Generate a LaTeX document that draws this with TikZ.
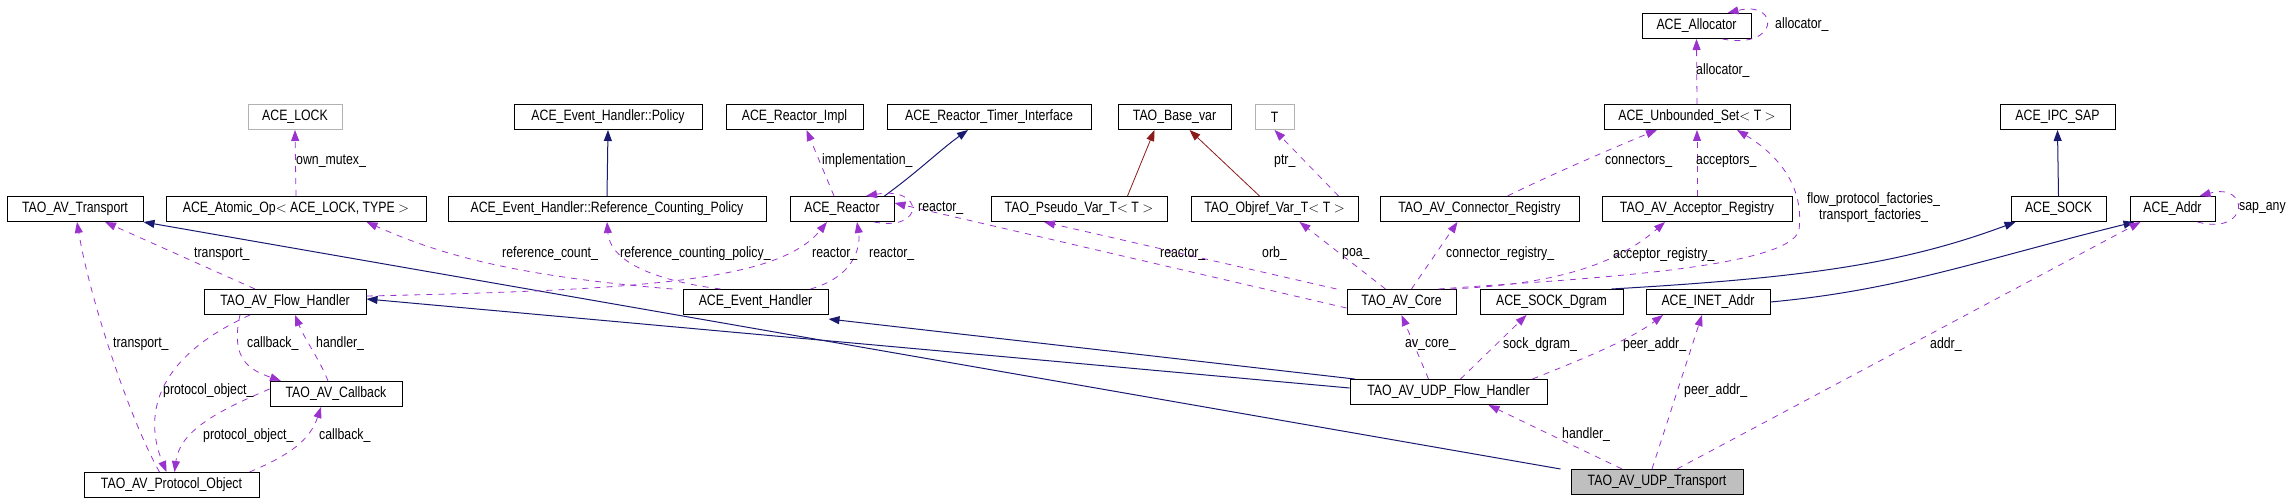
\documentclass[tikz,border=0pt]{standalone}
\usepackage{fontspec}
\setmainfont{Liberation Sans}[FakeStretch=0.82]
\usetikzlibrary{arrows.meta}
\definecolor{dep}{HTML}{9A32CD}
\definecolor{inh}{HTML}{191970}
\definecolor{tpl}{HTML}{8B1A1A}
\begin{document}
\begin{tikzpicture}[x=1pt,y=-1pt,
  cls/.style={draw=black,line width=1pt,minimum height=25pt,inner sep=0pt,font=\fontsize{15}{16}\selectfont},
  ghost/.style={cls,draw=gray!60},
  lbl/.style={font=\fontsize{15}{16}\selectfont,inner sep=0pt,anchor=west},
  dep/.style={-{Triangle[length=11pt,width=8pt,fill=dep]},draw=dep,dash pattern=on 6pt off 6pt,line width=0.8pt},
  inh/.style={-{Triangle[length=11pt,width=8pt,fill=inh]},draw=inh,line width=1pt},
  tpl/.style={-{Triangle[length=11pt,width=8pt,fill=tpl]},draw=tpl,line width=0.8pt}]
\useasboundingbox (0,0) rectangle (2295,500);
% nodes
\node[ghost,minimum width=94pt] (lock) at (295,117) {ACE\_LOCK};
\node[cls,minimum width=188pt] (pol) at (608,117) {ACE\_Event\_Handler::Policy};
\node[cls,minimum width=137pt] (rimpl) at (794.5,117) {ACE\_Reactor\_Impl};
\node[cls,minimum width=204pt] (rti) at (989,117) {ACE\_Reactor\_Timer\_Interface};
\node[cls,minimum width=113pt] (bvar) at (1174.5,117) {TAO\_Base\_var};
\node[ghost,minimum width=39pt] (T) at (1274.5,117) {T};
\node[cls,minimum width=109pt] (alloc) at (1696.5,26) {ACE\_Allocator};
\node[cls,minimum width=186pt] (uset) at (1697,117) {ACE\_Unbounded\_Set$<$ T $>$};
\node[cls,minimum width=115pt] (ipc) at (2057.5,117) {ACE\_IPC\_SAP};
\node[cls,minimum width=136pt] (tr) at (75,209) {TAO\_AV\_Transport};
\node[cls,minimum width=260pt] (aop) at (296,209) {ACE\_Atomic\_Op$<$ ACE\_LOCK, TYPE $>$};
\node[cls,minimum width=318pt] (rcp) at (607,209) {ACE\_Event\_Handler::Reference\_Counting\_Policy};
\node[cls,minimum width=104pt] (re) at (842,209) {ACE\_Reactor};
\node[cls,minimum width=176pt] (pv) at (1079,209) {TAO\_Pseudo\_Var\_T$<$ T $>$};
\node[cls,minimum width=167pt] (ov) at (1274.5,209) {TAO\_Objref\_Var\_T$<$ T $>$};
\node[cls,minimum width=199pt] (creg) at (1479.5,209) {TAO\_AV\_Connector\_Registry};
\node[cls,minimum width=190pt] (areg) at (1697,209) {TAO\_AV\_Acceptor\_Registry};
\node[cls,minimum width=95pt] (sock) at (2058.5,209) {ACE\_SOCK};
\node[cls,minimum width=85pt] (addr) at (2172.5,209) {ACE\_Addr};
\node[cls,minimum width=162pt] (fh) at (285,302) {TAO\_AV\_Flow\_Handler};
\node[cls,minimum width=145pt] (eh) at (755.5,302) {ACE\_Event\_Handler};
\node[cls,minimum width=109pt] (core) at (1401.5,302) {TAO\_AV\_Core};
\node[cls,minimum width=143pt] (dg) at (1551.5,302) {ACE\_SOCK\_Dgram};
\node[cls,minimum width=124pt] (inet) at (1708,302) {ACE\_INET\_Addr};
\node[cls,minimum width=132pt] (cb) at (336,394) {TAO\_AV\_Callback};
\node[cls,minimum width=197pt] (ufh) at (1448.5,392) {TAO\_AV\_UDP\_Flow\_Handler};
\node[cls,minimum width=175pt] (po) at (171.5,485) {TAO\_AV\_Protocol\_Object};
\node[cls,minimum width=172pt,fill=gray!50] (ut) at (1657,482) {TAO\_AV\_UDP\_Transport};
% inheritance
\draw[inh] (rcp.north) -- (pol.south);
\draw[inh] ([xshift=-10pt]re.north east) .. controls (920,170) and (940,150) .. ([xshift=-21pt]rti.south);
\draw[tpl] ([xshift=-40pt]pv.north east) -- ([xshift=-20pt]bvar.south);
\draw[tpl] ([xshift=-15pt]ov.north) -- ([xshift=15pt]bvar.south);
\draw[inh] (sock.north) -- (ipc.south);
\draw[inh] ([xshift=-12pt]dg.north east) .. controls (1800,278) and (1900,265) .. ([xshift=5pt]sock.south west);
\draw[inh] (inet.east) .. controls (1900,290) and (1980,260) .. ([xshift=5pt]addr.south west);
\draw[inh] ([yshift=4pt]ufh.west) -- ([yshift=3pt]fh.east);
\draw[inh] ([xshift=5pt]ufh.north west) -- ([yshift=-4pt]eh.south east);
\draw[inh] ([xshift=-10pt]ut.north west) -- ([xshift=0pt]tr.south east);
% dependencies
\draw[dep] (aop.north) -- (lock.south);
\draw[dep] ([xshift=-8pt]re.north) -- ([xshift=12pt]rimpl.south);
\draw[dep] ([xshift=-20pt]ov.north east) -- (T.south);
\draw[dep] ([xshift=32pt]re.south) .. controls (925,232) and (925,186) .. ([xshift=24pt]re.north);
\draw[dep] ([xshift=26pt]alloc.south) .. controls (1780,50) and (1780,0) .. ([xshift=31pt]alloc.north);
\draw[dep] ([xshift=25pt]addr.south) .. controls (2250,236) and (2250,182) .. ([xshift=27pt]addr.north);
\draw[dep] (uset.north) -- (alloc.south);
\draw[dep] ([xshift=28pt]creg.north) .. controls (1550,175) and (1620,145) .. ([xshift=-40pt]uset.south);
\draw[dep] (areg.north) -- (uset.south);
\draw[dep] ([xshift=-18pt]core.north east) .. controls (1560,280) and (1790,270) .. (1799,230) .. controls (1805,180) and (1770,150) .. ([xshift=40pt]uset.south);
\draw[dep] ([xshift=-6pt]core.north east) .. controls (1540,285) and (1610,270) .. ([xshift=-32pt]areg.south);
\draw[dep] ([xshift=10pt]core.north) -- ([xshift=-22pt]creg.south);
\draw[dep] ([xshift=-16pt]core.north) -- ([xshift=25pt]ov.south);
\draw[dep] ([xshift=-10pt]core.north west) -- ([xshift=-35pt]pv.south);
\draw[dep] ([yshift=-6pt]core.west) -- ([yshift=6pt]re.east);
\draw[dep] ([yshift=6pt]fh.east) .. controls (650,290) and (780,280) .. ([xshift=-15pt]re.south);
\draw[dep] ([xshift=55pt]eh.north) .. controls (860,275) and (860,240) .. ([xshift=15pt]re.south);
\draw[dep] ([xshift=-10pt]eh.north west) .. controls (500,275) and (430,250) .. ([xshift=-60pt]aop.south east);
\draw[dep] ([xshift=-35pt]eh.north) .. controls (650,280) and (610,260) .. (rcp.south);
\draw[dep] ([xshift=-30pt]fh.north) -- ([xshift=30pt]tr.south);
\draw[dep] ([xshift=-20pt]ufh.north) -- (core.south);
\draw[dep] ([xshift=12pt]ufh.north) -- ([xshift=-25pt]dg.south);
\draw[dep] ([xshift=-15pt]ufh.north east) .. controls (1580,360) and (1630,340) .. ([xshift=-45pt]inet.south);
\draw[dep] ([xshift=-5pt]ut.north) -- ([xshift=-6pt]inet.south);
\draw[dep] ([xshift=20pt]ut.north) -- ([xshift=-32pt]addr.south);
\draw[dep] ([xshift=-35pt]ut.north) -- ([xshift=40pt]ufh.south);
\draw[dep] ([xshift=-45pt]fh.south) .. controls (230,360) and (250,370) .. ([xshift=-55pt]cb.north);
\draw[dep] ([xshift=-8pt]cb.north) .. controls (320,360) and (305,340) .. ([xshift=10pt]fh.south);
\draw[dep] ([xshift=-35pt]fh.south) .. controls (150,360) and (145,420) .. ([xshift=-5pt]po.north);
\draw[dep] ([yshift=5pt]cb.west) .. controls (220,410) and (180,430) .. ([xshift=3pt]po.north);
\draw[dep] ([xshift=-10pt]po.north east) .. controls (290,455) and (310,440) .. ([xshift=-15pt]cb.south);
\draw[dep] ([xshift=-12pt]po.north) .. controls (130,420) and (90,300) .. ([xshift=2pt]tr.south);
% labels
\node[lbl] (l1) at (296,161) {own\_mutex\_};
\node[lbl] (l2) at (822,161) {implementation\_};
\node[lbl] (l3) at (1274,161) {ptr\_};
\node[lbl] (l4) at (918,208) {reactor\_};
\node[lbl] (l5) at (1775,25) {allocator\_};
\node[lbl] (l6) at (1696,71) {allocator\_};
\node[lbl] (l7) at (1605,161) {connectors\_};
\node[lbl] (l8) at (1696,161) {acceptors\_};
\node[lbl] (l9) at (1807,200) {flow\_protocol\_factories\_};
\node[lbl] (l10) at (1819,216) {transport\_factories\_};
\node[lbl] (l11) at (2239,208) {sap\_any};
\node[lbl] (l12) at (194,254) {transport\_};
\node[lbl] (l13) at (502,254) {reference\_count\_};
\node[lbl] (l14) at (620,254) {reference\_counting\_policy\_};
\node[lbl] (l15) at (812,254) {reactor\_};
\node[lbl] (l16) at (869,254) {reactor\_};
\node[lbl] (l17) at (1160,254) {reactor\_};
\node[lbl] (l18) at (1262,254) {orb\_};
\node[lbl] (l19) at (1342,254) {poa\_};
\node[lbl] (l20) at (1446,254) {connector\_registry\_};
\node[lbl] (l21) at (1613,255) {acceptor\_registry\_};
\node[lbl] (l22) at (113,344) {transport\_};
\node[lbl] (l23) at (247,344) {callback\_};
\node[lbl] (l24) at (316,344) {handler\_};
\node[lbl] (l25) at (1405,345) {av\_core\_};
\node[lbl] (l26) at (1503,345) {sock\_dgram\_};
\node[lbl] (l27) at (1623,345) {peer\_addr\_};
\node[lbl] (l28) at (1930,345) {addr\_};
\node[lbl] (l29) at (163,391) {protocol\_object\_};
\node[lbl] (l30) at (1684,391) {peer\_addr\_};
\node[lbl] (l31) at (203,436) {protocol\_object\_};
\node[lbl] (l32) at (319,436) {callback\_};
\node[lbl] (l33) at (1562,435) {handler\_};
\end{tikzpicture}
\end{document}
